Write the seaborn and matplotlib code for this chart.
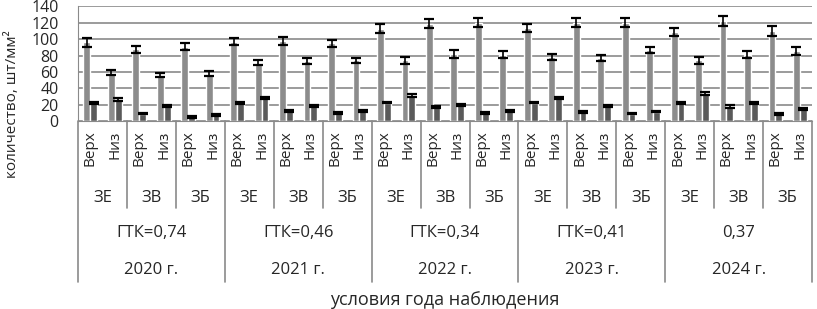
import numpy as np
import pandas as pd
import matplotlib
matplotlib.use("Agg")
import matplotlib.pyplot as plt
import matplotlib.transforms as mtransforms
import seaborn as sns

# data
years = ["2020 г.", "2021 г.", "2022 г.", "2023 г.", "2024 г."]
gtk = ["ГТК=0,74", "ГТК=0,46", "ГТК=0,34", "ГТК=0,41", "0,37"]
zones = ["ЗЕ", "ЗВ", "ЗБ"]
levels = ["Верх", "Низ"]

# light series, per year: ЗЕ верх/низ, ЗВ верх/низ, ЗБ верх/низ
s1_vals = [96, 59, 88, 56, 91, 58,
           97, 71, 98, 73, 95, 74,
           113, 74, 119, 82, 120, 81,
           114, 78, 120, 77, 120, 87,
           109, 74, 122, 81, 110, 86]
s1_err = [5, 3, 4.3, 2.7, 4.5, 3,
          4.5, 3, 4.5, 3.5, 4.5, 3.5,
          5, 3.7, 5.5, 4.5, 5.5, 4,
          5, 4, 5.5, 3.5, 5.5, 4,
          5, 4.3, 6, 4.5, 5.7, 4.9]
# dark series
s2_vals = [22, 26, 9, 18, 5, 7,
           22, 28, 12, 18, 10, 12,
           22.5, 31, 17, 19.5, 9.5, 12,
           22.5, 28, 11, 18, 9, 11.5,
           22, 34, 18, 22, 9, 15]
s2_err = [1, 1.6, 1, 1, 0.8, 1,
          1, 1.5, 1, 1, 1, 1,
          1, 2, 1, 1, 1, 1,
          1, 1.5, 1, 1, 1, 1,
          1.2, 2, 2, 1.6, 1.2, 1.4]

cats = [f"{y} {z} {l}" for y in years for z in zones for l in levels]
df = pd.DataFrame({"cat": cats * 2,
                   "val": s1_vals + s2_vals,
                   "ser": ["s1"] * len(cats) + ["s2"] * len(cats)})

sns.set_style("white")
plt.rcParams['font.family'] = ['Open Sans', 'DejaVu Sans']

fig = plt.figure(figsize=(8.17, 3.09), dpi=100)
ax = fig.add_axes([0.0955, 0.6084, 0.8985, 0.3706])

sns.barplot(data=df, x="cat", y="val", hue="ser", palette=["#8c8c8c", "#5a5a5a"],
            width=0.56, errorbar=None, legend=False, saturation=1, ax=ax)

for cont, err in zip(ax.containers, [s1_err, s2_err]):
    xs = [p.get_x() + p.get_width() / 2 for p in cont]
    hs = [p.get_height() for p in cont]
    ax.errorbar(xs, hs, yerr=err, fmt="none", ecolor="black",
                elinewidth=1.2, capsize=3.5, capthick=1.6, zorder=5)

gc = "#8a8a8a"
ax.set_ylim(0, 140)
ax.set_xlim(-0.5, len(cats) - 0.5)
ax.set_yticks(range(0, 141, 20))
ax.yaxis.grid(True, color=gc, lw=1.2)
ax.set_axisbelow(True)
for s in ["top", "right"]:
    ax.spines[s].set_visible(False)
ax.spines["left"].set_color(gc)
ax.spines["bottom"].set_color(gc)
ax.tick_params(axis="y", length=4, color=gc, pad=10, labelsize=11.5)
ax.set_xticks([])
ax.set_xlabel("")
ax.set_ylabel("")

# multilevel category axis
tr = mtransforms.blended_transform_factory(ax.transData, ax.transAxes)
for i, c in enumerate(cats):
    ax.text(i, -0.085, levels[i % 2], transform=tr, rotation=90,
            ha="center", va="top", fontsize=11)
for k in range(len(years) * len(zones)):
    ax.text(2 * k + 0.5, -0.672, zones[k % 3], transform=tr,
            ha="center", va="center", fontsize=12)
for k in range(len(years)):
    ax.text(6 * k + 2.5, -0.978, gtk[k], transform=tr,
            ha="center", va="center", fontsize=12)
    ax.text(6 * k + 2.5, -1.30, years[k], transform=tr,
            ha="center", va="center", fontsize=12)

for k in range(len(cats) // 2 + 1):
    xk = 2 * k - 0.5
    y1 = -1.406 if k % 3 == 0 else -0.76
    ax.plot([xk, xk], [0, y1], transform=tr, color=gc, lw=1.2, clip_on=False)

ax.text(0.5, -1.56, "условия года наблюдения", transform=ax.transAxes,
        ha="center", va="center", fontsize=13)
fig.text(13 / 817, 1 - 104 / 309, "количество, шт/мм\u00b2", rotation=90,
         ha="center", va="center", fontsize=11)

fig.savefig("out.png", dpi=100)
